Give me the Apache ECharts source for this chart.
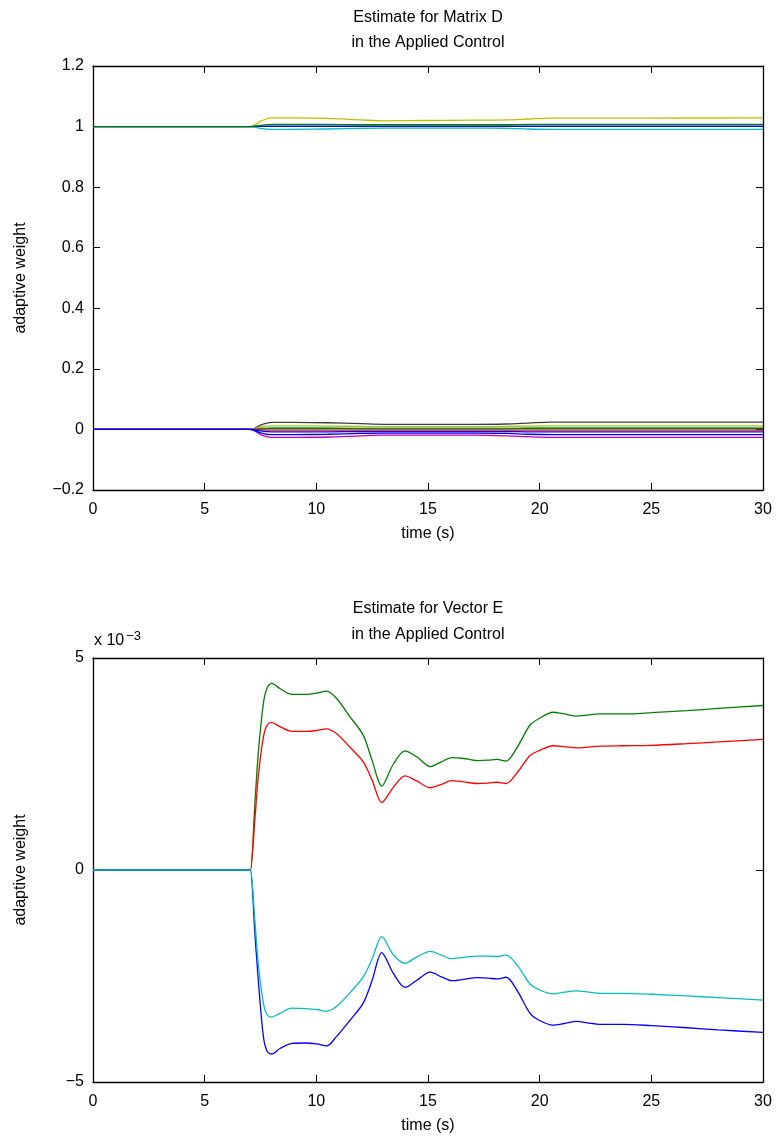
<!DOCTYPE html>
<html>
<head>
<meta charset="utf-8">
<script src="https://cdn.jsdelivr.net/npm/echarts@6/dist/echarts.min.js"></script>
<style>
html,body{margin:0;padding:0;background:#fff;}
#chart{width:777px;height:1145px;}
</style>
</head>
<body>
<div id="chart"></div>
<script>
// ---------- Data: top plot (Matrix D) ----------
const tTop = [0, 7, 7.2, 7.5, 8, 9, 10.5, 12, 13, 15, 17, 18.5, 19.5, 20.5, 22, 25, 30];
const dGray    = [0,0,0.002,0.014,0.023,0.023,0.022,0.019,0.017,0.017,0.017,0.018,0.021,0.024,0.024,0.024,0.024];
const dOlive   = [0,0,0.001,0.008,0.012,0.012,0.011,0.010,0.009,0.009,0.009,0.010,0.011,0.012,0.012,0.012,0.012];
const dCyan0   = [0,0,0,0.003,0.005,0.005,0.005,0.004,0.004,0.004,0.004,0.004,0.005,0.005,0.005,0.005,0.005];
const dGreen0  = [0,0,0,0.002,0.003,0.003,0.003,0.002,0.002,0.002,0.002,0.002,0.003,0.003,0.003,0.003,0.003];
const dRed0    = [0,0,0,-0.001,-0.002,-0.002,-0.002,-0.002,-0.002,-0.002,-0.002,-0.002,-0.002,-0.002,-0.002,-0.002,-0.002];
const dMagenta = [0,0,-0.003,-0.017,-0.026,-0.026,-0.025,-0.021,-0.019,-0.019,-0.019,-0.021,-0.024,-0.026,-0.026,-0.026,-0.026];
const dBlue2   = [0,0,-0.002,-0.011,-0.017,-0.017,-0.016,-0.013,-0.012,-0.012,-0.012,-0.013,-0.016,-0.017,-0.017,-0.017,-0.017];
const dBlue0   = [0,0,-0.001,-0.005,-0.008,-0.008,-0.008,-0.007,-0.007,-0.007,-0.007,-0.007,-0.008,-0.008,-0.008,-0.008,-0.008];
const dYellow1 = [1,1,1.003,1.018,1.029,1.029,1.027,1.022,1.019,1.020,1.021,1.022,1.025,1.028,1.028,1.028,1.029];
const dCyan1   = [1,1,0.999,0.994,0.991,0.991,0.992,0.994,0.995,0.995,0.995,0.994,0.992,0.991,0.991,0.991,0.991];
const dBlue1   = [1,1,1,1.001,1.001,1.001,1.001,1.001,1.001,1.001,1.001,1.001,1.001,1.001,1.001,1.001,1.001];
const dGreen1  = [1,1,1.001,1.004,1.007,1.007,1.007,1.006,1.006,1.006,1.006,1.006,1.007,1.007,1.007,1.007,1.007];

// ---------- Data: bottom plot (Vector E), units of 1e-3 ----------
const tBot = [0, 7.0, 7.05, 7.25, 7.4, 7.63, 7.8, 8.0, 8.37, 8.9, 9.5, 10.02, 10.46, 10.9, 11.5, 12.1, 12.5, 12.93, 13.45, 13.97, 14.5, 15.1, 15.6, 16.06, 16.6, 17.2, 17.7, 18.08, 18.5, 19.0, 19.57, 20.0, 20.6, 21.1, 21.66, 22.2, 22.7, 23.75, 25, 26.6, 28, 30];
const eGreen = [0,0,0,1.58,2.75,3.93,4.30,4.40,4.28,4.14,4.14,4.17,4.22,4.05,3.62,3.18,2.58,1.98,2.50,2.81,2.67,2.44,2.55,2.65,2.63,2.58,2.59,2.61,2.57,2.90,3.42,3.58,3.72,3.68,3.63,3.66,3.68,3.68,3.71,3.76,3.81,3.88];
const eRed   = [0,0,0,1.20,2.20,3.14,3.42,3.48,3.38,3.27,3.27,3.29,3.33,3.22,2.90,2.55,2.12,1.59,1.95,2.22,2.10,1.94,2.02,2.11,2.08,2.04,2.05,2.07,2.04,2.30,2.70,2.82,2.93,2.91,2.88,2.90,2.92,2.93,2.94,2.98,3.02,3.08];
const eBlue  = [0,0,0,-1.50,-2.59,-3.93,-4.28,-4.34,-4.21,-4.09,-4.08,-4.10,-4.15,-3.93,-3.55,-3.14,-2.60,-1.95,-2.44,-2.77,-2.60,-2.41,-2.52,-2.61,-2.58,-2.54,-2.55,-2.57,-2.53,-2.85,-3.38,-3.55,-3.66,-3.62,-3.57,-3.61,-3.64,-3.64,-3.67,-3.72,-3.77,-3.83];
const eCyan  = [0,0,0,-1.20,-2.20,-3.14,-3.42,-3.47,-3.38,-3.26,-3.27,-3.29,-3.33,-3.22,-2.90,-2.52,-2.10,-1.57,-2.00,-2.20,-2.05,-1.92,-2.01,-2.09,-2.06,-2.03,-2.03,-2.04,-2.01,-2.25,-2.69,-2.83,-2.92,-2.88,-2.85,-2.88,-2.91,-2.91,-2.93,-2.97,-3.01,-3.07];

// ---------- Tick settings ----------
const xTicks = {min: 0, max: 30, interval: 5};
const yTopTicks = {min: -0.2, max: 1.2, interval: 0.2};
const yBotTicks = {min: -5, max: 5, interval: 5};

const FONT = 'Liberation Sans, Arial, Helvetica, sans-serif';
const zip = (t, v) => t.map((x, i) => [x, v[i]]);
const minus = s => String(s).replace('-', '\u2212');
const fmtTop = v => minus(Math.round(v * 10) / 10);

function mainX(gi) {
  return {
    type: 'value', gridIndex: gi, position: 'bottom', ...xTicks,
    name: 'time (s)', nameLocation: 'middle', nameGap: 36,
    nameTextStyle: {fontFamily: FONT, fontSize: 16, color: '#000'},
    axisLine: {show: true, onZero: false, lineStyle: {color: '#000', width: 1.3}},
    axisTick: {show: true, inside: true, length: 7, lineStyle: {color: '#000'}},
    axisLabel: {show: true, margin: 12, fontFamily: FONT, fontSize: 16, color: '#000'},
    splitLine: {show: false}
  };
}
function mirrorX(gi) {
  return {
    type: 'value', gridIndex: gi, position: 'top', ...xTicks,
    axisLine: {show: true, onZero: false, lineStyle: {color: '#000', width: 1.3}},
    axisTick: {show: true, inside: true, length: 7, lineStyle: {color: '#000'}},
    axisLabel: {show: false}, splitLine: {show: false}
  };
}
function mainY(gi, ticks, fmt) {
  return {
    type: 'value', gridIndex: gi, position: 'left', ...ticks,
    name: 'adaptive weight', nameLocation: 'middle', nameGap: 64, nameRotate: 90,
    nameTextStyle: {fontFamily: FONT, fontSize: 16, color: '#000'},
    axisLine: {show: true, onZero: false, lineStyle: {color: '#000', width: 1.3}},
    axisTick: {show: true, inside: true, length: 7, lineStyle: {color: '#000'}},
    axisLabel: {show: true, margin: 9, fontFamily: FONT, fontSize: 16, color: '#000', formatter: fmt},
    splitLine: {show: false}
  };
}
function mirrorY(gi, ticks) {
  return {
    type: 'value', gridIndex: gi, position: 'right', ...ticks,
    axisLine: {show: true, onZero: false, lineStyle: {color: '#000', width: 1.3}},
    axisTick: {show: true, inside: true, length: 7, lineStyle: {color: '#000'}},
    axisLabel: {show: false}, splitLine: {show: false}
  };
}
function line(xi, yi, t, v, color) {
  return {
    type: 'line', xAxisIndex: xi, yAxisIndex: yi, data: zip(t, v),
    showSymbol: false, symbol: 'none', smooth: 0.3, silent: true,
    lineStyle: {color: color, width: 1.3}, itemStyle: {color: color}
  };
}

const series = [
  line(0, 0, tTop, dGray, '#404040'),
  line(0, 0, tTop, dOlive, '#bfbf00'),
  line(0, 0, tTop, dCyan0, '#00bfbf'),
  line(0, 0, tTop, dGreen0, '#008000'),
  line(0, 0, tTop, dRed0, '#ff0000'),
  line(0, 0, tTop, dMagenta, '#bf00bf'),
  line(0, 0, tTop, dBlue2, '#0000ff'),
  line(0, 0, tTop, dBlue0, '#0000ff'),
  line(0, 0, tTop, dYellow1, '#bfbf00'),
  line(0, 0, tTop, dCyan1, '#00bfbf'),
  line(0, 0, tTop, dBlue1, '#0000ff'),
  line(0, 0, tTop, dGreen1, '#008000'),
  line(2, 2, tBot, eGreen, '#008000'),
  line(2, 2, tBot, eRed, '#ff0000'),
  line(2, 2, tBot, eBlue, '#0000ff'),
  line(2, 2, tBot, eCyan, '#00bfbf')
];

const chart = echarts.init(document.getElementById('chart'), null, {renderer: 'canvas'});
chart.setOption({
  backgroundColor: '#fff',
  animation: false,
  grid: [
    {left: 93, top: 66, width: 670, height: 424},
    {left: 93, top: 658, width: 670, height: 424}
  ],
  xAxis: [mainX(0), mirrorX(0), mainX(1), mirrorX(1)],
  yAxis: [mainY(0, yTopTicks, fmtTop), mirrorY(0, yTopTicks), mainY(1, yBotTicks, v => minus(v)), mirrorY(1, yBotTicks)],
  graphic: [
    {type: 'text', x: 428, y: 18, style: {text: 'Estimate for Matrix D', fontFamily: FONT, fontSize: 16, fill: '#000', align: 'center', verticalAlign: 'middle'}},
    {type: 'text', x: 428, y: 43, style: {text: 'in the Applied Control', fontFamily: FONT, fontSize: 16, fill: '#000', align: 'center', verticalAlign: 'middle'}},
    {type: 'text', x: 428, y: 609, style: {text: 'Estimate for Vector E', fontFamily: FONT, fontSize: 16, fill: '#000', align: 'center', verticalAlign: 'middle'}},
    {type: 'text', x: 428, y: 635, style: {text: 'in the Applied Control', fontFamily: FONT, fontSize: 16, fill: '#000', align: 'center', verticalAlign: 'middle'}},
    {type: 'text', x: 94, y: 641, style: {
      text: '{b|x 10}{s|\u22123}', fontFamily: FONT, fill: '#000', verticalAlign: 'middle',
      rich: {b: {fontSize: 16, fontFamily: FONT, fill: '#000'}, s: {fontSize: 13, fontFamily: FONT, fill: '#000', verticalAlign: 'top', padding: [0, 0, 10, 2]}}
    }}
  ],
  series: series
});
</script>
</body>
</html>
